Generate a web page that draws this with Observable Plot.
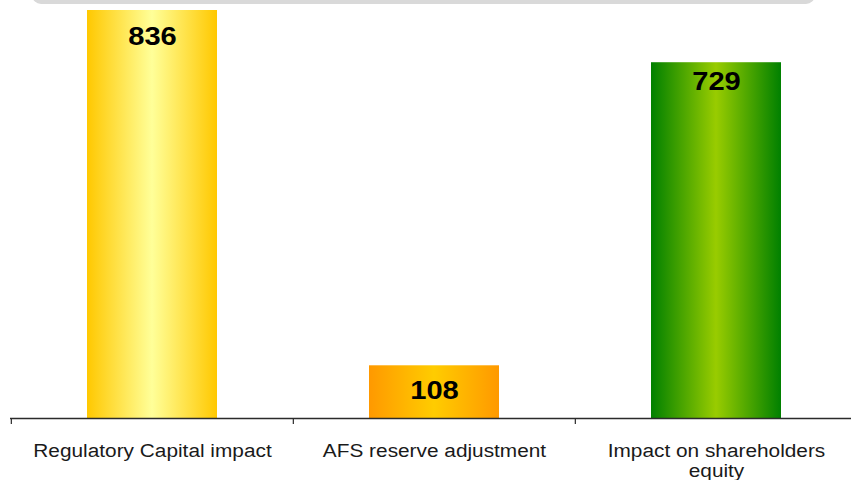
<!DOCTYPE html>
<html>
<head>
<meta charset="utf-8">
<script src="https://cdn.jsdelivr.net/npm/d3@7"></script>
<script src="https://cdn.jsdelivr.net/npm/@observablehq/plot@0.6"></script>
<style>
  html, body { margin: 0; padding: 0; background: #fff; }
  #chart { position: relative; width: 851px; height: 480px; overflow: hidden; }
  #chart svg { display: block; }
  /* light grey header panel peeking in at the top edge */
  #banner {
    position: absolute; z-index: 1;
    left: 32px; top: -14px; width: 783px; height: 18px;
    background: #d9d9d9; border-radius: 9px;
  }
</style>
</head>
<body>
<div id="chart"><div id="banner"></div></div>
<script>
// Impact figures by item
const categories = ["Regulatory Capital impact", "AFS reserve adjustment", "Impact on shareholders equity"];
const values = [836, 108, 729];

const rows = categories.map((category, i) => ({category, value: values[i]}));

// Horizontal "cylinder" gradients: [edge colour, centre colour]
const gradientStops = [
  ["#ffc800", "#ffff99"],
  ["#ff9900", "#ffcc00"],
  ["#008000", "#99cc00"]
];
const gradientId = (i) => `bar-grad-${i}`;
const fillOf = new Map(categories.map((c, i) => [c, `url(#${gradientId(i)})`]));

// Layout
const W = 851, H = 480;
const marginTop = 10, marginBottom = 62, marginLeft = 10;
const xStart = 10, xEnd = 857;            // category band runs slightly past the right edge
const step = (xEnd - xStart) / categories.length;
const frameHeight = H - marginTop - marginBottom;
const font = 'Arial, "Liberation Sans", sans-serif';
const labelDy = [26, 25, 19];             // value label offset below each bar top

const chart = Plot.plot({
  width: W,
  height: H,
  marginTop,
  marginBottom,
  marginLeft,
  marginRight: 0,
  style: {fontFamily: font, background: "transparent"},
  x: {
    type: "band",
    domain: categories,
    range: [xStart, xEnd],
    paddingInner: 0.54,
    paddingOuter: 0.27,
    axis: null
  },
  y: {domain: [0, d3.max(values)], axis: null},
  color: {type: "identity"},
  marks: [
    Plot.barY(rows, {x: "category", y: "value", fill: (d) => fillOf.get(d.category)}),
    ...categories.map((c, i) =>
      Plot.text(rows.filter((d) => d.category === c), {
        x: "category",
        y: "value",
        text: (d) => String(d.value),
        dy: labelDy[i],
        fontSize: 26,
        fontWeight: "bold",
        fill: "#000"
      })
    ),
    Plot.ruleY([0], {stroke: "#2b2b2b", strokeWidth: 1.5}),
    // boundary ticks between categories
    Plot.ruleX(categories, {
      x: (d) => d,
      dx: -step / 2,
      insetTop: frameHeight,
      insetBottom: -6,
      stroke: "#2b2b2b",
      strokeWidth: 1.2
    }),
    Plot.axisX({
      label: null,
      tickSize: 0,
      tickPadding: 24,
      fontSize: 18.6,
      lineWidth: 13,
      lineHeight: 1.08,
      fill: "#1a1a1a"
    })
  ]
});

// gradient definitions referenced by the bars
const ns = "http://www.w3.org/2000/svg";
const defs = document.createElementNS(ns, "defs");
gradientStops.forEach(([edge, centre], i) => {
  const g = document.createElementNS(ns, "linearGradient");
  g.setAttribute("id", gradientId(i));
  g.setAttribute("x1", "0"); g.setAttribute("x2", "1");
  g.setAttribute("y1", "0"); g.setAttribute("y2", "0");
  [[0, edge], [0.5, centre], [1, edge]].forEach(([o, col]) => {
    const s = document.createElementNS(ns, "stop");
    s.setAttribute("offset", o);
    s.setAttribute("stop-color", col);
    g.appendChild(s);
  });
  defs.appendChild(g);
});
chart.insertBefore(defs, chart.firstChild);

// slightly widened lettering
chart.querySelectorAll("text").forEach((t) => {
  const tr = t.getAttribute("transform");
  if (tr && tr.includes("translate")) t.setAttribute("transform", tr + " scale(1.12,1)");
});

document.getElementById("chart").appendChild(chart);
</script>
</body>
</html>
